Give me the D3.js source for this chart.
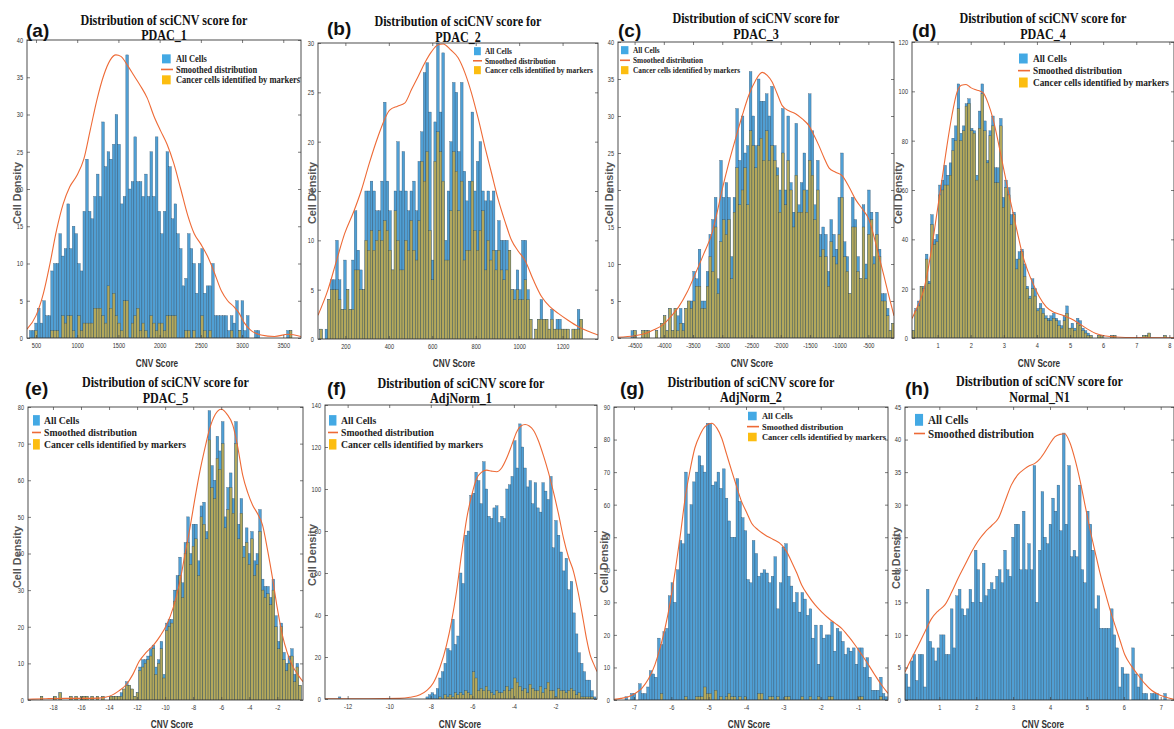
<!DOCTYPE html>
<html>
<head>
<meta charset="utf-8">
<script src="https://cdn.jsdelivr.net/npm/d3@7"></script>
<style>
body { margin: 0; background: #fff; }
</style>
</head>
<body>
<script>
// ---- sample names and panel letters
var letters = ["(a)", "(b)", "(c)", "(d)", "(e)", "(f)", "(g)", "(h)"];
var sampleNames = ["PDAC_1", "PDAC_2", "PDAC_3", "PDAC_4", "PDAC_5", "AdjNorm_1", "AdjNorm_2", "Normal_N1"];

// ---- histogram bins: first edge and width per panel
var binStart = [420, 82, -4700, 0.23, -19.1, -12.45, -7.241, 0.07];
var binWidth = [32.5, 12.22, 46, 0.08, 0.19, 0.124, 0.0725, 0.0723];

// ---- tick values
var xTicksA = [500, 1000, 1500, 2000, 2500, 3000, 3500];
var xTicksB = [200, 400, 600, 800, 1000, 1200];
var xTicksC = [-4500, -4000, -3500, -3000, -2500, -2000, -1500, -1000, -500];
var xTicksD = [1, 2, 3, 4, 5, 6, 7, 8];
var xTicksE = [-18, -16, -14, -12, -10, -8, -6, -4, -2];
var xTicksF = [-12, -10, -8, -6, -4, -2];
var xTicksG = [-7, -6, -5, -4, -3, -2, -1];
var xTicksH = [1, 2, 3, 4, 5, 6, 7];
var yMax = [40, 30, 40, 120, 80, 140, 90, 45];
var yStep = [5, 5, 5, 20, 10, 20, 10, 5];

// ---- all cells (counts per bin)
var allA = [1,1,2,4,2,5,3,3,9,10, 10,14,11,12,18,12,15,14,10,9, 17,24,17,16,19,22,19,29,23,25,
  24,26,30,26,18,19,38,20,21,27, 21,21,19,22,19,25,19,27,17,14, 17,25,23,16,18,14,12,7,8,14,
  12,10,6,10,12,6,7,7,10,3, 3,3,3,3,1,3,2,5,1,5, 1,3,0,0,1,1,0,0,0,0, 0,0,0,0,0,0,1,1];
var cancerA = [0,0,1,0,0,0,0,0,1,1, 1,0,3,2,3,3,1,0,3,1, 2,2,2,2,4,4,4,3,2,7,
  4,6,3,2,1,5,5,0,2,3, 4,1,2,1,0,3,2,1,2,2, 1,3,3,3,3,0,0,0,1,1,
  0,1,0,0,3,1,0,1,0,0, 0,0,0,0,0,1,0,0,1,0, 0,0,0,0,0,0,0,0,0,0, 0,0,0,0,0,0,0,1];

var allB = [1,0,1,4,6,6,10,6,3,8, 5,3,8,13,9,7,5,15,15,16, 15,13,13,16,24,16,13,7,15,20,
  15,19,15,13,15,16,13,18,21,27, 28,23,8,22,30,23,29,10,15,20, 26,25,19,26,17,14,16,23,15,18,
  20,15,14,15,14,15,9,12,10,10, 10,9,5,5,7,5,10,10,5,2, 0,1,2,4,2,2,1,3,1,2, 2,1,1,1,0,1,1,3,2];
var cancerB = [1,0,0,4,5,5,5,4,3,3, 5,3,3,7,7,5,5,10,9,11, 9,10,11,10,12,11,9,7,13,10,
  7,7,10,9,12,9,8,12,18,16, 19,11,6,18,21,19,16,8,8,13, 19,17,13,16,8,9,9,16,11,9,
  11,13,7,10,8,9,7,9,7,6, 7,9,5,4,5,4,4,6,4,2, 0,1,2,2,2,2,1,2,1,1, 1,1,1,1,0,1,1,1,2];

var allC = [0,0,0,1,1,0,0,1,1,1, 0,0,1,0,2,3,1,4,1,4, 3,4,2,4,5,5,9,8,12,5, 5,9,
  14,16,19,8,24,19,21,19,11,19, 31,24,30,25,26,36,30,26,35,32, 32,33,30,34,26,23,20,31,20,30,
  21,17,29,18,21,25,20,33,28,18, 24,14,15,14,9,16,14,12,19,25, 13,11,6,19,16,11,8,18,10,20,
  17,11,17,12,6,6,4,1,2];
var cancerC = [0,0,0,0,1,0,0,1,1,1, 0,0,1,0,2,3,1,4,1,4, 1,2,1,4,5,4,5,7,7,4, 4,7,
  11,9,15,6,13,16,14,16,8,17, 23,18,20,23,18,28,26,23,26,27, 24,28,24,26,24,22,17,25,18,24,
  20,15,22,17,17,20,17,24,22,16, 20,11,12,11,7,13,11,10,14,19, 11,9,6,15,15,9,8,15,8,14,
  16,10,14,11,5,5,3,1,2];

var allD = [3,12,15,21,21,34,23,50,40,42, 62,64,70,66,71,81,86,103,83,86, 95,97,85,84,66,92,103,88,72,84,
  90,69,69,89,57,64,61,50,51,32, 35,36,30,21,17,24,20,12,14,12, 9,8,9,10,8,7,5,9,13,4,
  6,4,8,7,4,3,2,1,0,0, 1,1,0,0,0,1,1,0,0,0, 0,0,0,0,0,0,0,1,1,2, 0,0,0,0,0,1,0,0];
var cancerD = [3,11,13,21,20,32,22,46,38,39, 58,60,62,62,66,76,80,93,80,84, 94,95,84,83,64,85,99,84,71,82,
  86,63,63,86,53,61,58,46,50,28, 32,35,25,20,16,20,17,11,12,10, 8,7,7,8,7,5,4,7,10,4,
  4,3,6,5,3,2,1,1,0,0, 1,1,0,0,0,1,1,0,0,0, 0,0,0,0,0,0,0,1,1,2, 0,0,0,0,0,1,0,0];

var allE = [0,1,0,0,0,0,1,0,2,0, 0,0,1,0,1,0,1,1,1,0, 1,0,1,0,1,0,0,1,
  1,1,1,2,3,5,4,3,1,2, 9,11,11,12,14,15,9,11,16,7, 21,22,22,30,34,39,32,43,50,40,
  48,48,38,53,54,46,79,64,60,72, 68,76,50,58,62,55,76,48,55,42, 47,40,46,38,40,52,33,31,31,28,
  33,23,16,21,13,10,12,14,7,10, 4];
var cancerE = [0,1,0,0,0,0,1,0,2,0, 0,0,1,0,1,0,1,1,1,0, 1,0,1,0,1,0,0,1,
  1,1,1,1,3,4,4,3,1,2, 8,9,10,11,12,14,7,10,14,6, 19,20,21,27,30,34,28,40,43,37,
  42,44,34,50,48,44,71,58,55,66, 63,70,47,52,58,51,70,44,51,39, 43,37,44,34,37,46,30,28,29,26,
  30,20,14,20,11,8,10,12,5,9, 4];

var allF = [1,0,0,0,0,0,0,0,0,0, 0,0,0,0,0,0,0,0,0,0, 0,0,0,0,0,0,0,0,0,0, 0,0,0,0,
  1,2,3,2,5,10,13,17,24,23, 38,26,30,60,55,78,80,97,98,108, 104,93,113,100,87,86,91,92,84,87,
  86,100,102,106,123,110,131,120,110,101, 104,93,103,91,89,103,99,95,106,72, 85,78,70,61,67,52,56,41,31,22,
  17,13,9,9,4,1];
var cancerF = [0,0,0,0,0,0,0,0,0,0, 0,0,0,0,0,0,0,0,0,0, 0,0,0,0,0,0,0,0,0,0, 0,0,0,0,0,0,0,0,
  0,1,0,2,1,2,1,3,2,3, 2,4,3,2,13,10,4,5,4,6, 4,3,2,4,3,3,4,6,4,5,
  10,8,6,4,5,3,7,5,4,4, 6,3,5,8,4,4,1,5,4,4, 3,4,5,4,2,3,1,1,1,1, 1,0];

var allG = [1,0,2,2,0,5,2,2,4,9, 8,7,19,17,21,22,32,36,30,40, 49,48,70,51,60,67,70,75,72,70,
  85,85,66,67,70,65,71,62,55,50, 50,68,61,56,52,37,36,49,45,38, 39,40,39,36,38,44,28,36,47,48,
  38,35,30,33,27,33,31,26,28,19, 23,11,23,19,20,20,24,15,22,21, 18,14,16,15,16,11,16,16,10,13,
  7,3,3,3,7,2,1];
var cancerG = [0,0,0,0,0,0,0,0,0,0, 0,0,0,2,0,0,0,0,0,0, 0,0,1,0,0,0,1,1,1,4,
  2,2,0,3,0,1,0,1,2,1, 1,0,1,0,1,0,0,0,0,2, 2,0,0,1,1,0,1,0,0,1,
  1,0,0,0,0,1,0,0,1,0, 0,1,0,0,0,1,1,0,0,0, 0,0,0,0,0,0,1,1,0,0,
  0,0,0,0,1,0,0];

var allH = [4,2,6,7,3,7,7,2,17,9, 8,6,8,10,10,7,7,14,8,16, 17,14,13,14,17,15,23,20,15,21,
  16,17,18,17,19,20,18,23,20,19, 25,27,27,20,29,20,24,20,36,15, 23,32,25,24,27,31,29,33,26,41,
  27,36,22,23,22,33,20,18,29,27, 23,14,16,11,11,11,11,14,10,8, 2,5,4,4,0,8,4,2,4,1,
  1,0,1,1,1,0,0,1];

// ---- smoothed distribution curves [score, density]
var smoothA = [[391,1.2],[500,3],[590,6],[670,10],[750,14.5],[830,18],[910,20.3],[996,21.8],[1080,24],[1160,28],
  [1240,32],[1320,35.2],[1400,37.3],[1470,38],[1530,37.8],[1610,36.6],[1690,35.2],[1770,33.8],[1850,32.2],[1930,29.8],
  [2012,27.8],[2090,26],[2170,23.5],[2256,20],[2340,16.5],[2420,14],[2500,12.6],[2580,11],[2663,8.8],[2750,6.3],
  [2825,5],[2900,4.2],[2960,3.4],[3030,2],[3100,1.1],[3230,0.4],[3394,0.2],[3557,0.5],[3715,0.2]];
var smoothB = [[74,2.4],[120,5],[160,8],[197,10.7],[240,13],[274,15.1],[310,17.8],[350,20.5],[404,23.2],[440,23.6],
  [473,23.9],[505,25.3],[535,26.6],[566,28],[596,29.1],[625,29.8],[650,29.9],[685,29.3],[719,28.5],[750,27],
  [781,24.9],[812,22.3],[842,19.5],[873,16.8],[904,14.1],[935,11.9],[965,10],[996,8.9],[1026,8],[1065,6],
  [1103,4.3],[1140,3.3],[1180,2.6],[1225,1.9],[1272,1.25],[1315,0.8],[1363,0.4]];
var smoothC = [[-4784,0.1],[-4500,0.3],[-4317,0.6],[-4170,1.1],[-4031,1.7],[-3890,2.8],[-3746,4.2],[-3600,6.2],[-3460,8.7],[-3320,11.3],
  [-3174,14.2],[-3090,16.9],[-3003,20],[-2890,23.6],[-2774,26.9],[-2660,30],[-2546,32.8],[-2430,34.8],[-2317,35.9],[-2230,35.5],
  [-2146,34.6],[-2060,33],[-1974,31.4],[-1860,30.7],[-1746,30.3],[-1630,29.6],[-1517,28.7],[-1430,27.4],[-1346,26],[-1260,24.4],
  [-1174,23],[-1060,22.4],[-946,21.9],[-830,20.4],[-717,18.7],[-600,17.4],[-489,16],[-400,13.6],[-317,11],[-230,8.3],
  [-146,5.6],[-61,3]];
var smoothD = [[0.227,7.9],[0.4,13],[0.58,19.4],[0.78,33],[0.98,50.6],[1.13,64],[1.28,77.7],[1.43,90],[1.58,99.4],[1.72,102.5],
  [1.86,102.8],[2.0,101.5],[2.13,100.7],[2.26,100.2],[2.38,99.4],[2.53,95],[2.68,88.5],[2.83,79.5],[2.98,69.6],[3.13,59.8],
  [3.28,50.6],[3.43,41.5],[3.58,33],[3.73,27],[3.88,22.1],[4.08,16.5],[4.28,12.6],[4.53,10.3],[4.78,9.2],[5.03,7.8],
  [5.28,5.8],[5.53,3.6],[5.78,1.8],[6.08,0.8],[6.38,0.4],[7.0,0.15],[8.14,0.1]];
var smoothE = [[-19.78,0.2],[-18.5,0.35],[-17.06,0.45],[-15.9,0.45],[-14.7,0.5],[-14.2,0.8],[-13.76,1.4],[-13.3,2.5],[-12.8,4.1],[-12.3,7],
  [-11.86,10.5],[-11.35,13],[-10.83,15],[-10.35,17.5],[-9.9,20.5],[-9.4,25.5],[-8.95,32.3],[-8.6,39.5],[-8.24,46.8],[-7.9,54.5],
  [-7.53,62.3],[-7.18,68.5],[-6.83,74],[-6.42,78],[-6,79.4],[-5.58,78],[-5.17,75],[-4.82,69],[-4.47,61.4],[-4.1,56.5],
  [-3.76,53.2],[-3.4,50.8],[-3.05,47.7],[-2.7,41],[-2.34,33.2],[-2,25],[-1.64,17.7],[-1.3,13],[-0.94,9.5],[-0.55,7],[-0.17,5]];
var smoothF = [[-13.09,0.1],[-11,0.1],[-9.5,0.3],[-9,0.8],[-8.52,2],[-8.2,4],[-7.88,7.6],[-7.56,15],[-7.24,25.8],[-7.0,37],
  [-6.76,51.2],[-6.52,69],[-6.27,86],[-6.03,97],[-5.79,105],[-5.55,108],[-5.31,109],[-5.07,108.5],[-4.83,108.2],[-4.59,110],
  [-4.35,114.6],[-4.1,121],[-3.86,127.3],[-3.66,130],[-3.46,130.7],[-3.26,130],[-3.06,128],[-2.82,123],[-2.58,116],[-2.34,108],
  [-2.1,98.7],[-1.85,88],[-1.61,76.5],[-1.37,67.5],[-1.13,60.7],[-0.89,50],[-0.65,36.9],[-0.49,28],[-0.33,21],[-0.15,16.5],[0,13.1]];
var smoothG = [[-7.535,0.2],[-7.35,0.5],[-7.15,1],[-6.97,2],[-6.79,3.6],[-6.61,6.5],[-6.44,10.8],[-6.3,16],[-6.17,22],[-6.03,30],
  [-5.9,39.4],[-5.76,50.5],[-5.63,62],[-5.5,70.5],[-5.37,77.4],[-5.23,81.5],[-5.1,84],[-4.92,85],[-4.78,83.5],[-4.65,80.4],
  [-4.52,75.5],[-4.38,70.2],[-4.25,65.5],[-4.12,61],[-3.98,57.5],[-3.85,54.3],[-3.67,52.2],[-3.49,50.7],[-3.27,49.3],[-3.04,47.6],
  [-2.91,45.5],[-2.78,42.5],[-2.64,39],[-2.51,35.3],[-2.33,32],[-2.15,29.2],[-1.97,27],[-1.79,25.1],[-1.62,23.6],[-1.44,22],
  [-1.26,19.6],[-1.08,16.9],[-0.9,13.9],[-0.72,10.8],[-0.55,7.7],[-0.37,4.6],[-0.198,2]];
var smoothH = [[0.07,4.3],[0.25,6.4],[0.43,8.4],[0.61,10.5],[0.79,12.5],[0.97,13.7],[1.15,14.6],[1.33,16.5],[1.51,18.7],[1.7,20.8],
  [1.88,22.8],[2.06,24.5],[2.24,25.8],[2.42,26.8],[2.6,27.9],[2.78,30.5],[2.95,33],[3.13,34.6],[3.31,35.5],[3.45,36],
  [3.58,36.3],[3.72,37],[3.86,38.1],[4.0,39.4],[4.13,40.4],[4.27,40.8],[4.4,40.9],[4.54,39.5],[4.67,37.1],[4.81,33.8],
  [4.95,29.9],[5.08,26.3],[5.22,22.8],[5.35,19.6],[5.49,16.6],[5.62,14],[5.76,11.5],[5.9,9.1],[6.03,6.9],[6.21,5.2],
  [6.39,3.8],[6.57,2.5],[6.75,1.5],[6.93,0.9],[7.11,0.5],[7.36,0.1]];

var legendLabels = ["All Cells", "Smoothed distribution", "Cancer cells identified by markers"];

// ---- layout (pixel boxes and domains), kept apart from the data
var layout = [
  { box: [27, 40, 301, 338],   xDomain: [391, 3715],    title: [25, 40],   letter: [26, 37],   ylab: [17, 193],  xlab: [157, 367],
    leg: { sx: 162, tx: 176, y0: 62, dy: 10.5, fs: 9.5, w: 124 } },
  { box: [318, 43, 598, 339],  xDomain: [74, 1363],     title: [26, 42],   letter: [327, 35],  ylab: [312, 193], xlab: [454, 367],
    leg: { sx: 474, tx: 485, y0: 54, dy: 9.5, fs: 8.5, w: 108 } },
  { box: [618, 42, 894, 338],  xDomain: [-4784, -61],   title: [23, 39],   letter: [618, 37],  ylab: [609, 193], xlab: [752, 367],
    leg: { sx: 621, tx: 633, y0: 53, dy: 10, fs: 8.5, w: 107 } },
  { box: [912, 42, 1174, 338], xDomain: [0.227, 8.14],  title: [23, 39],   letter: [912, 37],  ylab: [898, 193], xlab: [1039, 367],
    leg: { sx: 1019, tx: 1033, y0: 62, dy: 12, fs: 10.5, w: 136 } },
  { box: [28, 407, 303, 700],  xDomain: [-19.78, -0.17], title: [387, 403], letter: [25, 395],  ylab: [17, 557],  xlab: [172, 728],
    leg: { sx: 33, tx: 44, y0: 424, dy: 12, fs: 11, w: 142 } },
  { box: [325, 405, 597, 699], xDomain: [-13.09, 0],    title: [388, 403], letter: [327, 395], ylab: [312, 555], xlab: [460, 728],
    leg: { sx: 329, tx: 341, y0: 424, dy: 12, fs: 11, w: 142 } },
  { box: [614, 407, 888, 700], xDomain: [-7.535, -0.198], title: [387, 402], letter: [620, 395], ylab: [604, 562], xlab: [749, 728],
    leg: { sx: 748, tx: 762, y0: 419, dy: 10.5, fs: 9, w: 124 } },
  { box: [905, 407, 1174, 700], xDomain: [0.07, 7.36],  title: [386, 402], letter: [905, 395], ylab: [896, 558], xlab: [1043, 728],
    leg: { sx: 915, tx: 928, y0: 424, dy: 13.5, fs: 12.5, w: 106 } }
];

var allSeries = [allA, allB, allC, allD, allE, allF, allG, allH];
var cancerSeries = [cancerA, cancerB, cancerC, cancerD, cancerE, cancerF, cancerG, null];
var smoothSeries = [smoothA, smoothB, smoothC, smoothD, smoothE, smoothF, smoothG, smoothH];
var xTickSets = [xTicksA, xTicksB, xTicksC, xTicksD, xTicksE, xTicksF, xTicksG, xTicksH];

var blue = "#509fd4", olive = "#b3a85c", edge = "#1f3b52", orange = "#ee6a36";
var SANS = "Liberation Sans, Arial, sans-serif";
var SERIF = "Liberation Serif, Times New Roman, serif";

var svg = d3.select("body").append("svg")
  .attr("width", 1174)
  .attr("height", 729)
  .attr("font-family", SANS);

// squeeze text horizontally, like the original picture
function squeeze(sel, f) {
  sel.each(function() {
    var L = this.getComputedTextLength();
    if (L > 0) d3.select(this).attr("textLength", L * f).attr("lengthAdjust", "spacingAndGlyphs");
  });
}

function drawPanel(k) {
  var L = layout[k];
  var b = L.box;
  var g = svg.append("g");
  var x = d3.scaleLinear().domain(L.xDomain).range([b[0], b[2]]);
  var y = d3.scaleLinear().domain([0, yMax[k]]).range([b[3], b[1]]);
  var w = x(binStart[k] + binWidth[k]) - x(binStart[k]);

  svg.append("clipPath").attr("id", "clip" + k)
    .append("rect").attr("x", b[0]).attr("y", b[1]).attr("width", b[2] - b[0]).attr("height", b[3] - b[1]);
  var plot = g.append("g").attr("clip-path", "url(#clip" + k + ")");

  // all cells
  plot.selectAll("rect.all")
    .data(allSeries[k].map(function(d, i){ return [i, d]; }).filter(function(d){ return d[1] > 0; }))
    .enter().append("rect")
      .attr("class", "all")
      .attr("x", function(d){ return x(binStart[k] + d[0] * binWidth[k]); })
      .attr("width", w)
      .attr("y", function(d){ return y(d[1]); })
      .attr("height", function(d){ return y(0) - y(d[1]); })
      .attr("fill", blue)
      .attr("stroke", edge).attr("stroke-width", 0.35).attr("stroke-opacity", 0.8);

  // cancer cells
  if (cancerSeries[k]) {
    plot.selectAll("rect.cancer")
      .data(cancerSeries[k].map(function(d, i){ return [i, d]; }).filter(function(d){ return d[1] > 0; }))
      .enter().append("rect")
        .attr("class", "cancer")
        .attr("x", function(d){ return x(binStart[k] + d[0] * binWidth[k]); })
        .attr("width", w)
        .attr("y", function(d){ return y(d[1]); })
        .attr("height", function(d){ return y(0) - y(d[1]); })
        .attr("fill", olive)
        .attr("stroke", edge).attr("stroke-width", 0.35).attr("stroke-opacity", 0.8);
  }

  // smoothed line
  var line = d3.line()
    .x(function(d){ return x(d[0]); })
    .y(function(d){ return y(d[1]); })
    .curve(d3.curveMonotoneX);
  plot.append("path")
    .datum(smoothSeries[k])
    .attr("d", line)
    .attr("fill", "none")
    .attr("stroke", orange)
    .attr("stroke-width", 1.1);

  // axes (ticks inward, on all four sides)
  var yTicks = d3.range(0, yMax[k] + yStep[k] / 2, yStep[k]);
  var fmt = function(d){ return String(d); };
  var axB = g.append("g").attr("transform", "translate(0," + b[3] + ")")
    .call(d3.axisBottom(x).tickValues(xTickSets[k]).tickSize(-3).tickPadding(5).tickFormat(fmt));
  var axT = g.append("g").attr("transform", "translate(0," + b[1] + ")")
    .call(d3.axisTop(x).tickValues(xTickSets[k]).tickSize(-3).tickFormat(""));
  var axL = g.append("g").attr("transform", "translate(" + b[0] + ",0)")
    .call(d3.axisLeft(y).tickValues(yTicks).tickSize(-3).tickPadding(4).tickFormat(fmt));
  var axR = g.append("g").attr("transform", "translate(" + b[2] + ",0)")
    .call(d3.axisRight(y).tickValues(yTicks).tickSize(-3).tickFormat(""));
  [axB, axT, axL, axR].forEach(function(a) {
    a.attr("font-family", SANS);
    a.select(".domain").remove();
    a.selectAll(".tick line").attr("stroke", "#444").attr("stroke-width", 0.7);
    a.selectAll(".tick text").attr("fill", "#333").attr("font-size", 7.5);
  });
  squeeze(axB.selectAll(".tick text"), 0.75);
  squeeze(axL.selectAll(".tick text"), 0.75);

  g.append("rect")
    .attr("x", b[0]).attr("y", b[1]).attr("width", b[2] - b[0]).attr("height", b[3] - b[1])
    .attr("fill", "none").attr("stroke", "#3a3a3a").attr("stroke-width", 0.9);

  // title
  var cx = (b[0] + b[2]) / 2;
  var t1 = g.append("text").attr("x", cx).attr("y", L.title[0])
    .attr("text-anchor", "middle").attr("font-family", SERIF)
    .attr("font-weight", "bold").attr("font-size", 14).attr("fill", "#111")
    .text("Distribution of sciCNV score for");
  var f = 167 / t1.node().getComputedTextLength();
  squeeze(t1, f);
  var t2 = g.append("text").attr("x", cx).attr("y", L.title[1])
    .attr("text-anchor", "middle").attr("font-family", SERIF)
    .attr("font-weight", "bold").attr("font-size", 14).attr("fill", "#111")
    .text(sampleNames[k]);
  squeeze(t2, f);

  // panel letter
  g.append("text").attr("x", L.letter[0]).attr("y", L.letter[1])
    .attr("font-family", SANS)
    .attr("font-weight", "bold").attr("font-size", 19).attr("fill", "#111")
    .text(letters[k]);

  // axis labels
  var yl = g.append("text")
    .attr("transform", "translate(" + L.ylab[0] + "," + L.ylab[1] + ") rotate(-90)")
    .attr("text-anchor", "middle").attr("dy", "0.35em")
    .attr("font-family", SANS)
    .attr("font-weight", "bold").attr("font-size", 11).attr("fill", "#555")
    .text("Cell Density");
  squeeze(yl, 62 / yl.node().getComputedTextLength());
  var xl = g.append("text").attr("x", L.xlab[0]).attr("y", L.xlab[1])
    .attr("text-anchor", "middle").attr("font-family", SANS)
    .attr("font-weight", "bold").attr("font-size", 10).attr("fill", "#333")
    .text("CNV Score");
  squeeze(xl, 0.82);

  // legend
  var lg = L.leg;
  var labels = cancerSeries[k] ? legendLabels : legendLabels.slice(0, 2);
  var items = g.append("g");
  var texts = items.selectAll("text").data(labels).enter().append("text")
    .attr("x", lg.tx)
    .attr("y", function(d, i){ return lg.y0 + i * lg.dy; })
    .attr("font-family", SERIF)
    .attr("font-weight", "bold").attr("font-size", lg.fs).attr("fill", "#222")
    .text(function(d){ return d; });
  var longest = d3.max(texts.nodes(), function(n){ return n.getComputedTextLength(); });
  squeeze(texts, lg.w / longest);
  var sqW = (lg.tx - lg.sx) * 0.62, sqH = lg.fs * 0.95;
  labels.forEach(function(d, i) {
    var by = lg.y0 + i * lg.dy;
    if (i === 1) {
      items.append("line")
        .attr("x1", lg.sx - 1).attr("x2", lg.tx - 3)
        .attr("y1", by - lg.fs * 0.32).attr("y2", by - lg.fs * 0.32)
        .attr("stroke", orange).attr("stroke-width", 1.6);
    } else {
      items.append("rect")
        .attr("x", lg.sx).attr("y", by - sqH * 0.85)
        .attr("width", sqW).attr("height", sqH)
        .attr("fill", i === 0 ? "#43a9e4" : "#fcbd10");
    }
  });
}

for (var k = 0; k < 8; k++) drawPanel(k);
</script>
</body>
</html>
